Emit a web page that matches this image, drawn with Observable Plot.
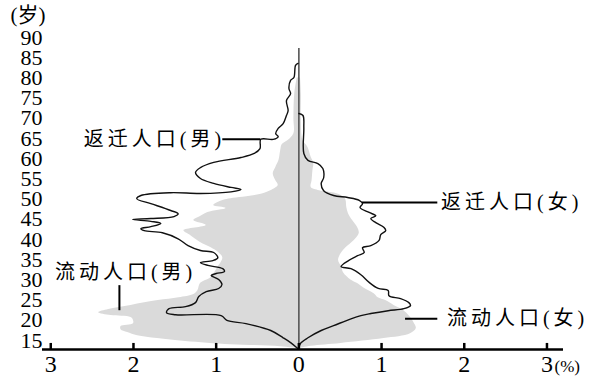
<!DOCTYPE html>
<html>
<head>
<meta charset="utf-8">
<script src="https://cdn.jsdelivr.net/npm/d3@7"></script>
<script src="https://cdn.jsdelivr.net/npm/@observablehq/plot@0.6"></script>
<style>
  html, body { margin: 0; padding: 0; background: #fff; }
  .lbl text { letter-spacing: 4px; }
</style>
</head>
<body>
<div id="chart"></div>
<script>
// Age tick labels (years) and percentage tick positions
const yTicks = [15, 20, 25, 30, 35, 40, 45, 50, 55, 60, 65, 70, 75, 80, 85, 90];
const xTicks = [-3, -2, -1, 0, 1, 2, 3];

// 流动人口(男) — floating population, male (%), by age
const flowMaleAge = [80, 76, 70, 66.2, 64.5, 63.5, 62.0, 59.6, 57.8, 56.3, 54.6, 53.4, 52.1, 51.0, 50.1, 49.7, 48.4, 47.7, 46.7, 45.7, 44.7, 43.5, 42.2, 41.0, 39.3, 38.0, 36.8, 35.5, 34.3, 33.1, 30.6, 29.1, 27.4, 26.4, 25.6, 24.9, 23.7, 22.7, 21.9, 21.2, 20.7, 20.0, 19.2, 18.5, 17.7, 17.0, 16.2, 15.5, 14.8, 14.0, 13.5, 13.0];
const flowMaleVal = [0.02, 0.05, 0.06, 0.06, 0.13, 0.2, 0.22, 0.24, 0.28, 0.31, 0.28, 0.25, 0.34, 0.5, 0.82, 0.91, 1.03, 0.88, 1.10, 1.19, 1.27, 1.12, 1.39, 1.31, 1.19, 1.06, 0.97, 0.92, 0.94, 0.98, 1.06, 1.19, 1.22, 1.27, 1.45, 1.7, 2.03, 2.3, 2.42, 2.27, 2.03, 2.0, 2.0, 2.15, 2.15, 2.07, 1.95, 1.71, 1.37, 0.82, 0.22, 0];

// 流动人口(女) — floating population, female (%)
const flowFemaleAge = [80, 76, 69.5, 64.5, 62.8, 60.3, 58.8, 57.1, 54.6, 52.9, 52.1, 51.4, 50.4, 49.7, 47.9, 46.4, 44.7, 43.0, 41.5, 39.8, 38.0, 36.5, 34.8, 33.1, 31.8, 30.0, 29.1, 28.1, 26.6, 25.6, 24.9, 23.7, 22.4, 21.2, 19.5, 18.0, 16.7, 15.5, 14.3, 13.6, 13.0];
const flowFemaleVal = [0.02, 0.03, 0.03, 0.05, 0.11, 0.15, 0.18, 0.17, 0.16, 0.15, 0.25, 0.45, 0.55, 0.57, 0.58, 0.60, 0.65, 0.71, 0.73, 0.67, 0.57, 0.51, 0.48, 0.52, 0.54, 0.63, 0.71, 0.78, 0.91, 0.96, 1.05, 1.15, 1.27, 1.33, 1.39, 1.42, 1.35, 1.03, 0.51, 0.15, 0];

// 返迁人口(男) — return migrants, male (%), traced in path order
const backMaleAge = [83.6, 83.1, 80.1, 79.4, 77.4, 76.1, 74.4, 71.9, 70.7, 68.7, 67.5, 66.2, 65.5, 64.8, 64.8, 62.5, 61.3, 60.3, 59.1, 57.8, 56.6, 55.1, 53.9, 52.9, 52.4, 51.8, 51.4, 51.6, 50.9, 50.1, 48.9, 47.2, 46.4, 45.7, 45.2, 45.0, 44.5, 44.0, 43.2, 42.7, 42.2, 41.7, 40.2, 38.5, 37.3, 36.8, 35.5, 34.8, 34.3, 33.6, 32.8, 32.1, 31.6, 31.1, 30.1, 28.9, 27.9, 27.1, 25.9, 24.4, 23.4, 22.9, 21.9, 21.4, 21.2, 20.0, 19.2, 17.5, 15.7, 14.5, 13.0];
const backMaleVal = [0.01, 0.04, 0.06, 0.10, 0.12, 0.10, 0.15, 0.13, 0.15, 0.19, 0.25, 0.28, 0.25, 0.31, 0.46, 0.47, 0.54, 0.70, 1.03, 1.19, 1.25, 1.19, 1.03, 0.82, 0.70, 0.82, 1.19, 1.55, 1.91, 1.96, 1.79, 1.55, 1.46, 1.51, 1.79, 2.01, 1.79, 1.67, 1.79, 1.91, 1.87, 1.65, 1.46, 1.34, 1.19, 1.03, 0.98, 1.04, 1.19, 1.10, 0.92, 0.90, 1.00, 1.06, 0.97, 0.93, 0.97, 1.12, 1.21, 1.25, 1.37, 1.57, 1.60, 1.49, 0.94, 0.87, 0.64, 0.34, 0.19, 0.10, 0.01];

// 返迁人口(女) — return migrants, female (%)
const backFemaleAge = [71.2, 70.7, 67.7, 61.3, 59.6, 58.8, 57.6, 55.3, 53.9, 52.1, 50.9, 50.4, 49.7, 48.9, 47.9, 46.7, 45.9, 45.2, 44.2, 43.0, 42.2, 41.2, 39.8, 38.5, 38.0, 36.8, 36.0, 34.8, 33.3, 32.8, 31.3, 29.4, 27.9, 27.4, 26.1, 25.4, 24.4, 23.7, 22.9, 22.4, 21.7, 21.2, 20.4, 18.7, 17.5, 15.7, 14.3, 13.0];
const backFemaleVal = [0.0, 0.05, 0.06, 0.06, 0.11, 0.23, 0.29, 0.30, 0.27, 0.30, 0.42, 0.59, 0.73, 0.77, 0.74, 0.85, 0.93, 0.87, 0.93, 1.03, 1.05, 0.99, 0.97, 0.87, 0.77, 0.79, 0.71, 0.60, 0.51, 0.63, 0.75, 0.85, 0.96, 1.08, 1.09, 1.23, 1.33, 1.35, 1.27, 1.08, 0.87, 0.75, 0.63, 0.42, 0.27, 0.11, 0.02, 0.0];

// Series labels
const labelBackMale = "返迁人口(男)";
const labelBackFemale = "返迁人口(女)";
const labelFlowMale = "流动人口(男)";
const labelFlowFemale = "流动人口(女)";
const yUnit = "(岁)";
const xUnit = "(%)";

const zip = (ages, vals) => ages.map((a, i) => ({age: a, v: vals[i]}));
const flowMale = zip(flowMaleAge, flowMaleVal);
const flowFemale = zip(flowFemaleAge, flowFemaleVal);
const backMale = zip(backMaleAge, backMaleVal);
const backFemale = zip(backFemaleAge, backFemaleVal);

const yMin = 12.8, yMax = 90, xMin = -3.1, xMax = 3.2;
const font = "'Liberation Serif', 'Noto Sans CJK SC', serif";

const chart = Plot.plot({
  width: 596,
  height: 377,
  marginLeft: 42,
  marginRight: 33,
  marginTop: 37,
  marginBottom: 28,
  x: {domain: [xMin, xMax], axis: null},
  y: {domain: [yMin, yMax], axis: null},
  style: {fontFamily: font, background: "#fff", color: "#000"},
  marks: [
    Plot.areaX(flowMale, {y: "age", x1: 0, x2: d => -d.v, fill: "#dadada", curve: "catmull-rom"}),
    Plot.areaX(flowFemale, {y: "age", x1: 0, x2: "v", fill: "#dadada", curve: "catmull-rom"}),
    Plot.ruleX([0], {y1: yMin, y2: 87.3, stroke: "#555", strokeWidth: 1.6}),
    Plot.line(backMale, {x: d => -d.v, y: "age", stroke: "#111", strokeWidth: 1.4, curve: "catmull-rom"}),
    Plot.line(backFemale, {x: "v", y: "age", stroke: "#111", strokeWidth: 1.4, curve: "catmull-rom"}),
    // axis
    Plot.ruleY([yMin], {x1: xMin, x2: xMax, stroke: "#000", strokeWidth: 2.5}),
    Plot.ruleX(xTicks, {x: d => d, y1: yMin, y2: yMin + 1.5, stroke: "#000", strokeWidth: 2.5}),
    Plot.text(xTicks, {x: d => d, y: yMin, text: d => String(Math.abs(d)), lineAnchor: "top", dy: 5, fontSize: 24, fill: "#000"}),
    Plot.text([xUnit], {x: xMax, y: yMin, text: d => d, textAnchor: "start", dx: -9, dy: 17, fontSize: 17, fill: "#000"}),
    Plot.text(yTicks, {x: xMin, y: d => d, text: d => String(d), textAnchor: "end", dx: 0, fontSize: 22, fill: "#000"}),
    Plot.text([yUnit], {x: xMin, y: yMax, text: d => d, textAnchor: "end", dx: 3, dy: -22, fontSize: 21, fill: "#000"}),
    // leader lines
    Plot.ruleY([64.8], {x1: -0.92, x2: -0.46, stroke: "#000", strokeWidth: 2}),
    Plot.ruleY([49.2], {x1: 0.77, x2: 1.68, stroke: "#000", strokeWidth: 2}),
    Plot.ruleY([20.4], {x1: 1.29, x2: 1.68, stroke: "#000", strokeWidth: 2}),
    Plot.ruleX([-2.17], {y1: 22.4, y2: 28.6, stroke: "#000", strokeWidth: 2}),
    // series labels
    Plot.text([labelBackMale], {x: -0.94, y: 64.8, text: d => d, textAnchor: "end", dx: 4, fontSize: 20, fill: "#000", className: "lbl"}),
    Plot.text([labelBackFemale], {x: 1.72, y: 49.2, text: d => d, textAnchor: "start", fontSize: 20, fill: "#000", className: "lbl"}),
    Plot.text([labelFlowFemale], {x: 1.79, y: 20.4, text: d => d, textAnchor: "start", fontSize: 20, fill: "#000", className: "lbl"}),
    Plot.text([labelFlowMale], {x: -2.12, y: 31.8, text: d => d, textAnchor: "middle", dx: 2, fontSize: 20, fill: "#000", className: "lbl"})
  ]
});
document.getElementById("chart").appendChild(chart);
</script>
</body>
</html>
